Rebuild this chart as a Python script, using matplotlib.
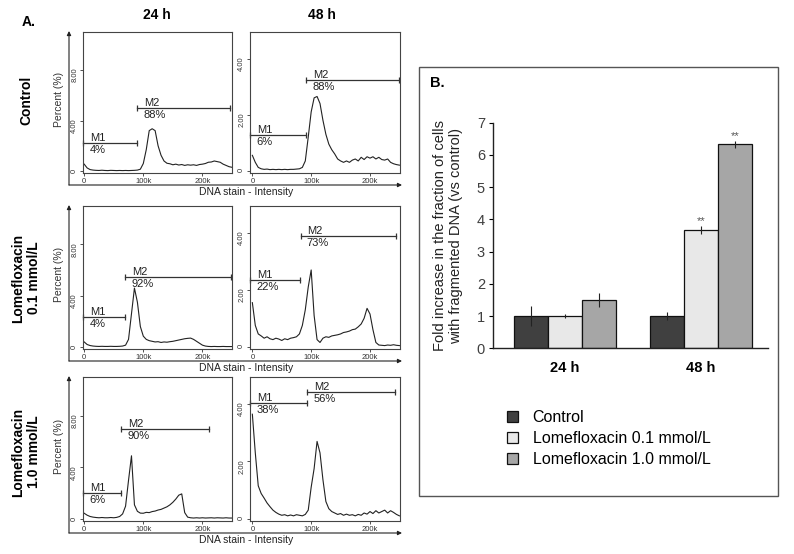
import numpy as np
import matplotlib.pyplot as plt

plt.rcParams['font.family'] = ['Liberation Sans', 'DejaVu Sans']

# ---- panel A: DNA histograms, x in thousands (channel), y in percent
dna_k = np.arange(0, 251, 5)

ctrl_24 = [0.55, 0.25, 0.12, 0.08, 0.06, 0.05, 0.07, 0.05, 0.04, 0.06,
           0.05, 0.04, 0.05, 0.04, 0.05, 0.04, 0.05, 0.06, 0.08, 0.15,
           0.6, 1.7, 3.2, 3.35, 3.2, 2.0, 1.25, 0.8, 0.62, 0.58,
           0.5, 0.55, 0.48, 0.52, 0.45, 0.5, 0.47, 0.5, 0.45, 0.52,
           0.55, 0.6, 0.7, 0.72, 0.8, 0.75, 0.7, 0.55, 0.45, 0.35,
           0.3]
ctrl_48 = [0.55, 0.3, 0.12, 0.07, 0.05, 0.06, 0.04, 0.05, 0.04, 0.05,
           0.04, 0.05, 0.04, 0.05, 0.05, 0.06, 0.07, 0.12, 0.35, 1.2,
           2.1, 2.6, 2.65, 2.4, 1.8, 1.3, 0.95, 0.75, 0.6, 0.42,
           0.35, 0.3, 0.35, 0.3, 0.38, 0.42, 0.35, 0.48, 0.4, 0.5,
           0.45, 0.5, 0.42, 0.48, 0.4, 0.38, 0.42, 0.3, 0.25, 0.22,
           0.2]
lo_24 = [0.4, 0.2, 0.12, 0.08, 0.06, 0.05, 0.06, 0.05, 0.05, 0.06,
         0.05, 0.05, 0.06, 0.08, 0.15, 0.6, 2.6, 4.6, 3.5, 1.6,
         0.85, 0.6, 0.5, 0.45, 0.4, 0.42, 0.36, 0.4, 0.38, 0.42,
         0.45, 0.5, 0.55, 0.6, 0.65, 0.68, 0.7, 0.6, 0.45, 0.3,
         0.15, 0.08, 0.05, 0.04, 0.05, 0.04, 0.04, 0.05, 0.04, 0.04,
         0.04]
lo_48 = [1.55, 0.75, 0.45, 0.38, 0.3, 0.35, 0.28, 0.25, 0.3, 0.27,
         0.22, 0.28, 0.25, 0.3, 0.32, 0.35, 0.45, 0.75, 1.3, 2.1,
         2.7, 1.1, 0.25, 0.15, 0.3, 0.35, 0.33, 0.38, 0.4, 0.42,
         0.45, 0.5, 0.52, 0.55, 0.6, 0.62, 0.7, 0.8, 1.0, 1.35,
         1.15, 0.6, 0.15, 0.06, 0.05, 0.04, 0.06, 0.05, 0.07, 0.05,
         0.04]
hi_24 = [0.45, 0.3, 0.2, 0.15, 0.12, 0.1, 0.12, 0.1, 0.1, 0.12,
         0.1, 0.13, 0.2, 0.4, 1.0, 3.0, 4.9, 1.1, 0.6, 0.46,
         0.45, 0.52, 0.5, 0.58, 0.62, 0.7, 0.75, 0.85, 0.95, 1.1,
         1.3, 1.55, 1.85, 1.95, 0.5, 0.15, 0.1, 0.08, 0.1, 0.08,
         0.1, 0.08, 0.09, 0.1, 0.08, 0.1, 0.09, 0.08, 0.1, 0.08,
         0.08]
hi_48 = [3.65, 2.3, 1.15, 0.88, 0.72, 0.55, 0.42, 0.3, 0.22, 0.16,
         0.12, 0.14, 0.1, 0.13, 0.1, 0.14, 0.12, 0.1, 0.15, 0.3,
         1.1, 1.75, 2.7, 2.3, 1.36, 0.6, 0.35, 0.25, 0.2, 0.15,
         0.18, 0.12, 0.16, 0.12, 0.14, 0.1, 0.15, 0.12, 0.2, 0.16,
         0.25, 0.18, 0.28, 0.2, 0.25, 0.3, 0.2, 0.28, 0.22, 0.15,
         0.1]

hists = [[ctrl_24, ctrl_48], [lo_24, lo_48], [hi_24, hi_48]]
row_names = ['Control', 'Lomefloxacin\n0.1 mmol/L', 'Lomefloxacin\n1.0 mmol/L']
times = ['24 h', '48 h']

# M1 / M2 gates (row x column)
m1_end = [[90, 91], [69.5, 81], [62, 93]]
m1_level = [[2.25, 1.27], [2.37, 2.35], [2.05, 4.05]]
m1_pct = [['4%', '6%'], ['4%', '22%'], ['6%', '38%']]
m2_start = [[90, 91], [69.5, 82], [62, 93]]
m2_end = [[247, 250], [247.5, 243.5], [211, 242]]
m2_level = [[5.0, 3.24], [5.47, 3.9], [6.95, 4.42]]
m2_pct = [['88%', '88%'], ['92%', '73%'], ['90%', '56%']]

# ---- panel B: fold increase
groups = ['24 h', '48 h']
series = ['Control', 'Lomefloxacin 0.1 mmol/L', 'Lomefloxacin 1.0 mmol/L']
fold = [[1.0, 1.0], [1.0, 3.67], [1.5, 6.33]]
fold_err = [[0.3, 0.12], [0.06, 0.12], [0.21, 0.1]]
stars = [['', ''], ['', '**'], ['', '**']]
colors = ['#404040', '#e8e8e8', '#a6a6a6']

W, H = 794, 554
fig = plt.figure(figsize=(W / 100, H / 100), dpi=100)


def px_axes(x0, y0, x1, y1):
    return fig.add_axes([x0 / W, 1 - y1 / H, (x1 - x0) / W, (y1 - y0) / H])


dark = '#333333'
row_top = [32, 206, 377]
row_bot = [173, 349, 521]
col_lr = [(83, 232), (250, 400)]
ylims = [(-0.15, 11.0), (-0.08, 4.95)]
xlims = [(-2, 250), (-4, 251)]
yticks = [[0, 4, 8], [0, 2, 4]]

for r in range(3):
    for c in range(2):
        ax = px_axes(col_lr[c][0], row_top[r], col_lr[c][1], row_bot[r])
        ax.plot(dna_k, hists[r][c], color='#222222', lw=0.8)
        ax.set_xlim(xlims[c])
        ax.set_ylim(ylims[c])
        ax.set_xticks([0, 100, 200], ['0', '100k', '200k'])
        ax.set_yticks(yticks[c], ['0'] + ['%.2f' % v for v in yticks[c][1:]])
        ax.tick_params(length=2, width=0.6, pad=1.5, labelsize=5.5,
                       colors=dark)
        ax.tick_params(axis='y', labelrotation=90)
        for sp in ax.spines.values():
            sp.set_color('#444444')
            sp.set_linewidth(0.8)

        x0 = xlims[c][0]
        ax.plot([x0, m1_end[r][c]], [m1_level[r][c]] * 2, color=dark, lw=0.9,
                marker='|', ms=4, mew=0.9, clip_on=False)
        ax.plot([m2_start[r][c], m2_end[r][c]], [m2_level[r][c]] * 2, color=dark,
                lw=0.9, marker='|', ms=4, mew=0.9, clip_on=False)
        for xs, lvl, name, pct in [(x0, m1_level[r][c], 'M1', m1_pct[r][c]),
                                   (m2_start[r][c], m2_level[r][c], 'M2', m2_pct[r][c])]:
            ax.annotate(name, (xs, lvl), xytext=(5, 1.5), textcoords='offset points',
                        fontsize=8, va='baseline', color='#222222')
            ax.annotate(pct, (xs, lvl), xytext=(4.5, -1.5), textcoords='offset points',
                        fontsize=8, va='top', color='#222222')
        if c == 0:
            ax.set_ylabel('Percent (%)', fontsize=7.5, color=dark)
            ax.yaxis.set_label_coords(-0.128, 0.52)

    # axis lines with arrows spanning the row
    y_ax = row_bot[r] + 12
    arrow = dict(arrowstyle='-|>', lw=0.8, color='#222222', mutation_scale=6,
                 shrinkA=0, shrinkB=0)
    fig.text(0, 0, '')
    plt.annotate('', xy=(402, H - y_ax), xytext=(69, H - y_ax),
                 xycoords='figure pixels', arrowprops=arrow)
    plt.annotate('', xy=(69, H - row_top[r] + 1), xytext=(69, H - y_ax),
                 xycoords='figure pixels', arrowprops=arrow)
    fig.text(246 / W, 1 - (row_bot[r] + 19) / H, 'DNA stain - Intensity',
             ha='center', va='center', fontsize=7.5, color='#222222')

row_label_y = [100, 278, 452]
for r in range(3):
    fig.text(26 / W, 1 - row_label_y[r] / H, row_names[r], rotation=90,
             ha='center', va='center', fontsize=10, fontweight='bold',
             linespacing=1.1)

for c, t in enumerate(times):
    fig.text((157, 322)[c] / W, 1 - 15 / H, t, ha='center', va='center',
             fontsize=10, fontweight='bold')
fig.text(22 / W, 1 - 22 / H, 'A.', ha='left', va='center', fontsize=10,
         fontweight='bold')

# ---- panel B
fig.add_artist(plt.Rectangle((419 / W, 1 - 496 / H), (778 - 419) / W, (496 - 67) / H,
                             transform=fig.transFigure, fill=False,
                             ec='#555555', lw=1))
fig.text(430 / W, 1 - 83 / H, 'B.', ha='left', va='center', fontsize=10.5,
         fontweight='bold')

bx = px_axes(493.3, 122.7, 768.3, 348.3)
pos = np.arange(len(groups))
width = 0.25
for i, name in enumerate(series):
    xs = pos + (i - 1) * width
    bx.bar(xs, fold[i], width, color=colors[i], edgecolor='#111111', lw=0.9,
           label=name)
    bx.errorbar(xs, fold[i], yerr=fold_err[i], fmt='none', ecolor='#222222',
                elinewidth=0.8, capsize=0)
    for x, v, e, s in zip(xs, fold[i], fold_err[i], stars[i]):
        if s:
            bx.annotate(s, (x, v + e), xytext=(0, 0), textcoords='offset points',
                        ha='center', va='bottom', fontsize=8, color='#555555')

bx.set_xlim(-0.525, 1.496)
bx.set_ylim(0, 7)
bx.set_yticks(range(8))
bx.set_xticks(pos, groups)
for sp in ['top', 'right']:
    bx.spines[sp].set_visible(False)
for sp in ['left', 'bottom']:
    bx.spines[sp].set_linewidth(1.0)
    bx.spines[sp].set_color('#222222')
bx.tick_params(axis='y', length=3, pad=3, labelsize=10.5, labelcolor='#404040')
bx.tick_params(axis='x', length=0, pad=9, labelsize=10.5)
for lab in bx.get_xticklabels():
    lab.set_fontweight('bold')
bx.set_ylabel('Fold increase in the fraction of cells\nwith fragmented DNA (vs control)',
              fontsize=10.5, color='#222222', linespacing=1.15)
bx.yaxis.set_label_coords(-0.11, 0.5)

bx.legend(loc='upper left', bbox_to_anchor=(507 / W, 1 - 410 / H),
          bbox_transform=fig.transFigure, frameon=False, fontsize=11.5,
          handlelength=0.7, handleheight=0.7, handletextpad=0.9,
          labelspacing=0.38, borderpad=0, borderaxespad=0)

fig.savefig('out.png', dpi=100)
